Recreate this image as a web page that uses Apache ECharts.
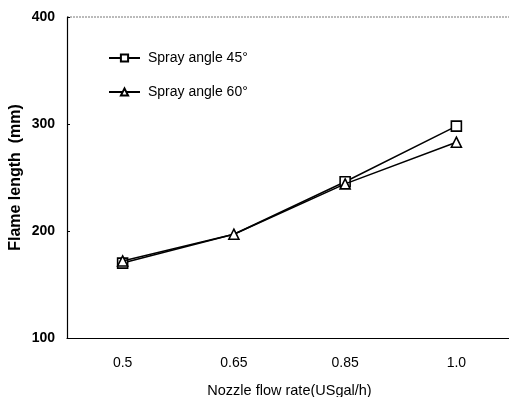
<!DOCTYPE html>
<html>
<head>
<meta charset="utf-8">
<script src="https://cdn.jsdelivr.net/npm/echarts@6/dist/echarts.min.js"></script>
<style>
  html, body { margin: 0; padding: 0; background: #fff; }
  #chart { width: 509px; height: 397px; }
</style>
</head>
<body>
<div id="chart"></div>
<script>
// Nozzle flow rate categories (USgal/h)
const flowRates = ['0.5', '0.65', '0.85', '1.0'];
// Flame length (mm) for each spray angle
const angle45 = [170, 197, 246, 298];
const angle60 = [172, 197, 244, 283];
const seriesNames = ['Spray angle 45°', 'Spray angle 60°'];
const yTicks = [100, 200, 300, 400];

const FONT = 'Liberation Sans';
const chart = echarts.init(document.getElementById('chart'), null, { renderer: 'canvas' });

// The 45° point at 0.65 is hidden beneath the 60° marker
const data45 = angle45.map((v, i) => (i === 1 ? { value: v, symbol: 'none' } : v));

chart.setOption({
  animation: false,
  backgroundColor: '#fff',
  textStyle: { fontFamily: FONT, color: '#000' },
  grid: {
    left: 67, right: -3, top: 17, bottom: 59,
    show: true, borderWidth: 0,
    outerBoundsMode: 'none', containLabel: false
  },
  legend: {
    orient: 'vertical',
    left: 103,
    top: 46,
    itemGap: 20,
    itemWidth: 31,
    itemHeight: 9,
    data: seriesNames,
    textStyle: { fontFamily: FONT, fontSize: 14, color: '#000', padding: [0, 0, 0, 3] }
  },
  xAxis: {
    type: 'category',
    data: flowRates,
    boundaryGap: true,
    name: 'Nozzle flow rate(USgal/h)',
    nameLocation: 'middle',
    nameGap: 45,
    nameTextStyle: { fontFamily: FONT, fontSize: 14.5, color: '#000' },
    axisLine: { lineStyle: { color: '#000', width: 1.2 } },
    axisTick: { show: false },
    axisLabel: { fontFamily: FONT, fontSize: 14, color: '#000', margin: 18 },
    splitLine: { show: false }
  },
  yAxis: {
    type: 'value',
    min: yTicks[0],
    max: yTicks[yTicks.length - 1],
    interval: 100,
    name: 'Flame length  (mm)',
    nameLocation: 'middle',
    nameGap: 43,
    nameMoveOverlap: false,
    nameRotate: 90,
    nameTextStyle: { fontFamily: FONT, fontSize: 16, fontWeight: 'bold', color: '#000' },
    axisLine: { show: true, lineStyle: { color: '#000', width: 1.2 } },
    axisTick: { show: true, inside: true, length: 3, lineStyle: { color: '#000' } },
    axisLabel: { fontFamily: FONT, fontSize: 14, fontWeight: 'bold', color: '#000', margin: 12 },
    splitLine: { show: false }
  },
  series: [
    {
      name: seriesNames[0],
      type: 'line',
      data: data45,
      symbol: 'rect',
      symbolSize: 10,
      lineStyle: { color: '#000', width: 1.5 },
      itemStyle: { color: '#fff', borderColor: '#000', borderWidth: 1.6 },
      z: 2
    },
    {
      name: seriesNames[1],
      type: 'line',
      data: angle60,
      symbol: 'triangle',
      symbolSize: 10,
      lineStyle: { color: '#000', width: 1.5 },
      itemStyle: { color: '#fff', borderColor: '#000', borderWidth: 1.6 },
      z: 3
    }
  ],
  graphic: [
    {
      // dotted frame line across the top of the plot
      type: 'line',
      shape: { x1: 67, y1: 17, x2: 509, y2: 17 },
      style: { stroke: '#777', lineWidth: 1, lineDash: [2, 1] }
    }
  ]
});
</script>
</body>
</html>
